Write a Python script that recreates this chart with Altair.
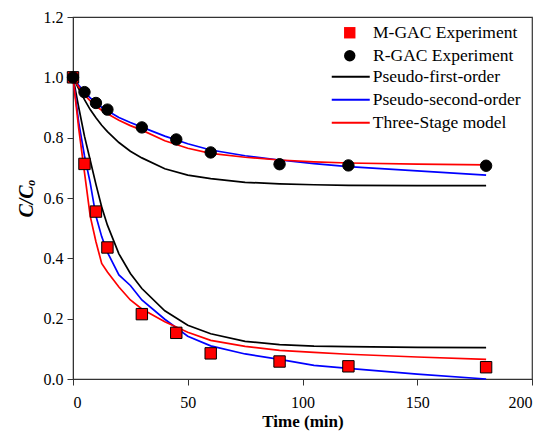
import altair as alt
import pandas as pd

# Experimental data
exp_time = [0, 5, 10, 15, 30, 45, 60, 90, 120, 180]
m_gac_exp = [1.0, 0.713, 0.555, 0.436, 0.215, 0.153, 0.085, 0.058, 0.042, 0.039]
r_gac_exp = [1.0, 0.951, 0.915, 0.893, 0.834, 0.794, 0.751, 0.712, 0.708, 0.707]

# Model curves
model_time = [0, 2.5, 5, 7.5, 10, 12.5, 15, 20, 25, 30, 40, 50, 60, 75, 90, 105, 120, 150, 180]
r_pfo = [1.0, 0.962, 0.926, 0.893, 0.866, 0.841, 0.820, 0.784, 0.755, 0.733, 0.697, 0.676, 0.664, 0.652, 0.647, 0.644, 0.642, 0.641, 0.641]
r_pso = [1.0, 0.974, 0.951, 0.932, 0.915, 0.901, 0.889, 0.867, 0.850, 0.835, 0.805, 0.780, 0.759, 0.740, 0.726, 0.714, 0.704, 0.690, 0.676]
r_tsm = [1.0, 0.968, 0.942, 0.922, 0.905, 0.891, 0.879, 0.858, 0.840, 0.825, 0.790, 0.765, 0.748, 0.735, 0.726, 0.720, 0.716, 0.712, 0.710]
m_pfo = [1.0, 0.900, 0.805, 0.725, 0.645, 0.570, 0.510, 0.415, 0.350, 0.300, 0.226, 0.178, 0.150, 0.125, 0.114, 0.109, 0.107, 0.105, 0.104]
m_pso = [1.0, 0.850, 0.740, 0.650, 0.540, 0.472, 0.420, 0.345, 0.310, 0.262, 0.198, 0.142, 0.110, 0.083, 0.065, 0.045, 0.035, 0.016, 0.0]
m_tsm = [1.0, 0.830, 0.685, 0.540, 0.455, 0.383, 0.355, 0.305, 0.262, 0.232, 0.190, 0.155, 0.128, 0.108, 0.095, 0.088, 0.082, 0.073, 0.065]

exp_names = ["M-GAC Experiment", "R-GAC Experiment"]
model_names = ["Pseudo-first-order", "Pseudo-second-order", "Three-Stage model"]

pts = pd.concat([
    pd.DataFrame({"t": exp_time, "c": m_gac_exp, "exp": exp_names[0]}),
    pd.DataFrame({"t": exp_time, "c": r_gac_exp, "exp": exp_names[1]}),
])

rows = []
for mat, series in [("M", [m_pfo, m_pso, m_tsm]), ("R", [r_pfo, r_pso, r_tsm])]:
    for name, vals in zip(model_names, series):
        rows.append(pd.DataFrame({"t": model_time, "c": vals, "model": name, "mat": mat}))
lines = pd.concat(rows)

FONT = "Liberation Serif"
LEG_FS = 17.5

x = alt.X("t:Q", scale=alt.Scale(domain=[0, 200], nice=False),
          axis=alt.Axis(title="Time (min)", values=[0, 50, 100, 150, 200], format="d",
                        titleFontWeight="bold", titleFontSize=17, titlePadding=3, labelPadding=9))
y = alt.Y("c:Q", scale=alt.Scale(domain=[0, 1.2], nice=False),
          axis=alt.Axis(title="C/Cₒ", values=[0, 0.2, 0.4, 0.6, 0.8, 1.0, 1.2], format=".1f",
                        titleFontWeight="bold", titleFontStyle="italic", titleFontSize=20,
                        titlePadding=7, labelPadding=4))

line_legend = alt.Legend(orient="none", legendX=269, legendY=51, title=None,
                         symbolType="M-9.5,0H9.5", symbolSize=16, symbolStrokeWidth=1.8,
                         rowPadding=4, labelOffset=13.3, padding=0,
                         labelFont=FONT, labelFontSize=LEG_FS, labelColor="#000")

line_layer = alt.Chart(lines).mark_line(strokeWidth=1.7).encode(
    x=x, y=y,
    stroke=alt.Stroke("model:N",
                      scale=alt.Scale(domain=model_names, range=["#000000", "#0000ff", "#ff0000"]),
                      legend=line_legend),
    detail="mat:N",
)

pt_legend = alt.Legend(orient="none", legendX=268, legendY=7, title=None,
                       rowPadding=4, labelOffset=14.5, padding=0,
                       symbolStrokeColor="black", symbolStrokeWidth=1, symbolOpacity=1,
                       symbolSize=130,
                       labelFont=FONT, labelFontSize=LEG_FS, labelColor="#000")

point_layer = alt.Chart(pts).mark_point(filled=True, stroke="black", strokeWidth=1, opacity=1, size=130).encode(
    x=x, y=y,
    fill=alt.Fill("exp:N", scale=alt.Scale(domain=exp_names, range=["#ff0000", "#000000"]),
                  legend=pt_legend),
    shape=alt.Shape("exp:N", scale=alt.Scale(domain=exp_names, range=["square", "circle"]),
                    legend=pt_legend),
)

chart = alt.layer(line_layer, point_layer).properties(
    width=459, height=362,
    padding={"left": 73, "top": 17, "right": 22, "bottom": 56},
    autosize=alt.AutoSizeParams(type="none"),
).configure_view(stroke="#333", strokeWidth=1.2).configure_axis(
    labelFont=FONT, titleFont=FONT, labelFontSize=16, labelColor="#000", titleColor="#000",
    domainColor="#333", tickColor="#333", tickSize=6, grid=False,
)

chart.save("out.html", embed_options={"renderer": "svg", "actions": False})
